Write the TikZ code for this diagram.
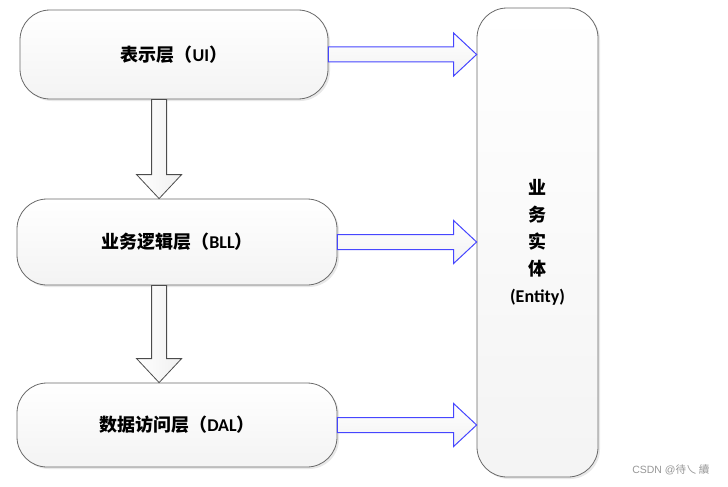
\documentclass[tikz,border=0pt]{standalone}
\usepackage{fontspec}
\setmainfont{Carlito}
\newfontfamily\cjk{Noto Sans CJK SC}
\newfontfamily\marksans{Liberation Sans}
\usetikzlibrary{calc,shadows}
\definecolor{boxline}{RGB}{105,105,105}
\definecolor{arrowblue}{RGB}{70,70,255}
\definecolor{markgray}{RGB}{150,150,150}

\newcommand{\zh}[1]{{\cjk #1}}

% fat arrow to the right, from the side of a box to the entity box
\newcommand{\rightfat}[2]{%
  \draw[rightarrow] let \p1=(#1), \p2=(#2) in
    (\x1,\y1+7.5pt) -- (\x2-23pt,\y1+7.5pt) -- (\x2-23pt,\y1+21.5pt) -- (\x2,\y1)
    -- (\x2-23pt,\y1-21.5pt) -- (\x2-23pt,\y1-7.5pt) -- (\x1,\y1-7.5pt) -- cycle;}

% fat arrow downwards, from one layer to the next
\newcommand{\downfat}[2]{%
  \draw[downarrow] let \p1=(#1), \p2=(#2) in
    (\x1-7.5pt,\y1) -- (\x1-7.5pt,\y2+24pt) -- (\x1-22.5pt,\y2+24pt) -- (\x1,\y2)
    -- (\x1+22.5pt,\y2+24pt) -- (\x1+7.5pt,\y2+24pt) -- (\x1+7.5pt,\y1) -- cycle;}

\tikzset{
  layer/.style={draw=boxline, line width=0.8pt, rounded corners=30pt,
    top color=white, bottom color=gray!9,
    drop shadow={shadow xshift=2pt, shadow yshift=-2pt, opacity=0.18},
    font=\bfseries\fontsize{18}{20}\selectfont},
  rightarrow/.style={draw=arrowblue, line width=1pt, line join=miter,
    top color=white, bottom color=gray!10},
  downarrow/.style={draw=black!70, line width=0.8pt, line join=miter,
    left color=white, right color=gray!12},
}

\begin{document}
\begin{tikzpicture}[x=1pt, y=-1pt]
    \useasboundingbox (0,0) rectangle (728,487);

    % Layers
    \node[layer, minimum width=308pt, minimum height=89pt] (ui) at (174,54.5)
        {\zh{表示层（}UI\zh{）}};
    \node[layer, minimum width=320pt, minimum height=86pt] (bll) at (177,242)
        {\zh{业务逻辑层（}BLL\zh{）}};
    \node[layer, minimum width=320pt, minimum height=84pt] (dal) at (177,425)
        {\zh{数据访问层（}DAL\zh{）}};

    % Entity
    \node[layer, align=center, minimum width=121pt, minimum height=469pt,
        font=\bfseries\fontsize{18}{27}\selectfont] (ent) at (537.5,242.5)
        {\zh{业}\\\zh{务}\\\zh{实}\\\zh{体}\\(Entity)};

    % Arrows between layers
    \downfat{$(ui.south west)+(139.5,0)$}{bll.north};
    \downfat{$(bll.south west)+(142.5,0)$}{dal.north};

    % Arrows to the entity
    \rightfat{ui.east}{ent.west};
    \rightfat{bll.east}{ent.west};
    \rightfat{dal.east}{ent.west};

    % Watermark
    \node[text=markgray, font=\marksans\fontsize{10.5}{12}\selectfont, anchor=east]
        (mark) at (713,470) {CSDN @\zh{待乀 續}};
\end{tikzpicture}
\end{document}
